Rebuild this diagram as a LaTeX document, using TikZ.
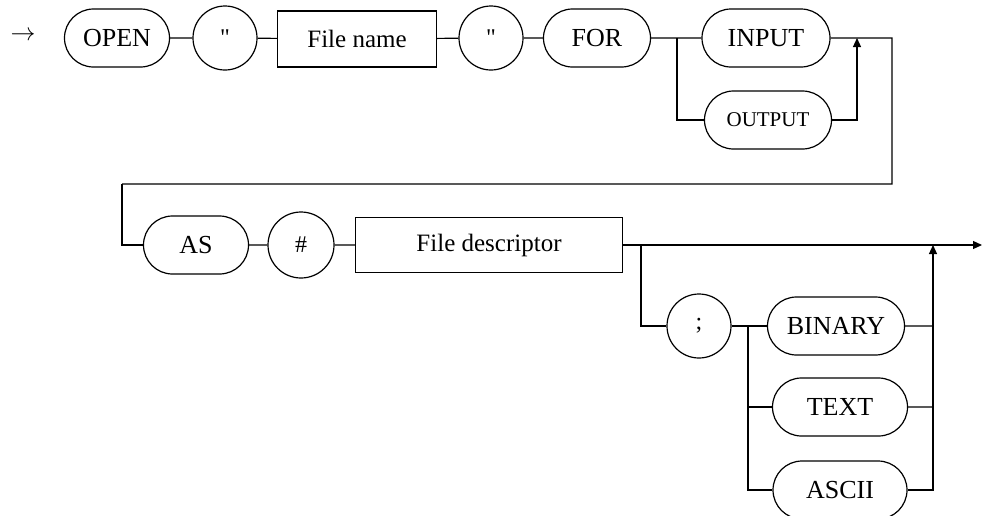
\documentclass[tikz,border=0pt]{standalone}
\usepackage{fontspec}
\setmainfont{Liberation Serif}
\newfontfamily\quotefont{Liberation Serif}[Ligatures=ResetAll]
\usetikzlibrary{shapes.misc,arrows.meta}
\tikzset{
  kw/.style={draw,rounded rectangle,minimum height=58pt,inner sep=0pt,font=\fontsize{26}{26}\selectfont},
  sym/.style={draw,circle,minimum size=64pt,inner sep=0pt,font=\fontsize{24}{24}\selectfont},
  item/.style={draw,rectangle,minimum height=56pt,inner sep=0pt,font=\fontsize{25}{25}\selectfont},
  tip/.style={-{Triangle[length=9pt,width=8pt]}}
}
\begin{document}
\begin{tikzpicture}[x=1pt,y=-1pt,line width=1.2pt]
            \useasboundingbox (0,0) rectangle (982,515);
            % first row
            \node (start) at (23,36) {\fontsize{26}{26}\selectfont$\rightarrow$};
            \node[kw,minimum width=105pt] (open) at (117,38) {OPEN};
            \node[sym] (q1) at (225,38) {\quotefont\symbol{34}};
            \node[item,minimum width=159pt] (fname) at (357,39) {File name};
            \node[sym] (q2) at (491,38) {\quotefont\symbol{34}};
            \node[kw,minimum width=107pt] (for) at (597,38) {FOR};
            \node[kw,minimum width=128pt] (in) at (766,38) {INPUT};
            \node[kw,minimum width=127pt,font=\fontsize{21}{21}\selectfont] (out) at (768,120) {OUTPUT};
            \coordinate (j1) at (677,38);
            \coordinate (j2) at (857,38);
            \coordinate (r1) at (892,38);
            \coordinate (r2) at (122,184);
            \draw (open) -- (q1) -- (fname) -- (q2) -- (for) -- (in);
            \draw (j1) |- (out);
            \draw[tip] (out) -| (j2);
            \draw (in) -- (r1) |- (r2);
            % second row
            \node[kw,minimum width=105pt] (as) at (196,245) {AS};
            \node[sym,minimum size=66pt] (hash) at (301,245) {\#};
            \node[item,minimum width=267pt,minimum height=55pt] (fdesc) at (489,245) {File descriptor};
            \node[sym] (semi) at (699,326) {;};
            \node[kw,minimum width=137pt] (bin) at (836,326) {BINARY};
            \node[kw,minimum width=135pt] (txt) at (840,407) {TEXT};
            \node[kw,minimum width=134pt] (asc) at (840,490) {ASCII};
            \coordinate (j3) at (641,245);
            \coordinate (j4) at (748,326);
            \coordinate (j5) at (933,245);
            \coordinate (end) at (982,245);
            \draw (r2) |- (as);
            \draw (as) -- (hash) -- (fdesc);
            \draw[tip] (fdesc) -- (end);
            \draw (j3) |- (semi);
            \draw (semi) -- (bin);
            \draw (j4) |- (txt);
            \draw (j4) |- (asc);
            \draw (bin) -- (bin -| j5);
            \draw (txt) -- (txt -| j5);
            \draw[tip] (asc) -| (j5);
        \end{tikzpicture}
\end{document}
